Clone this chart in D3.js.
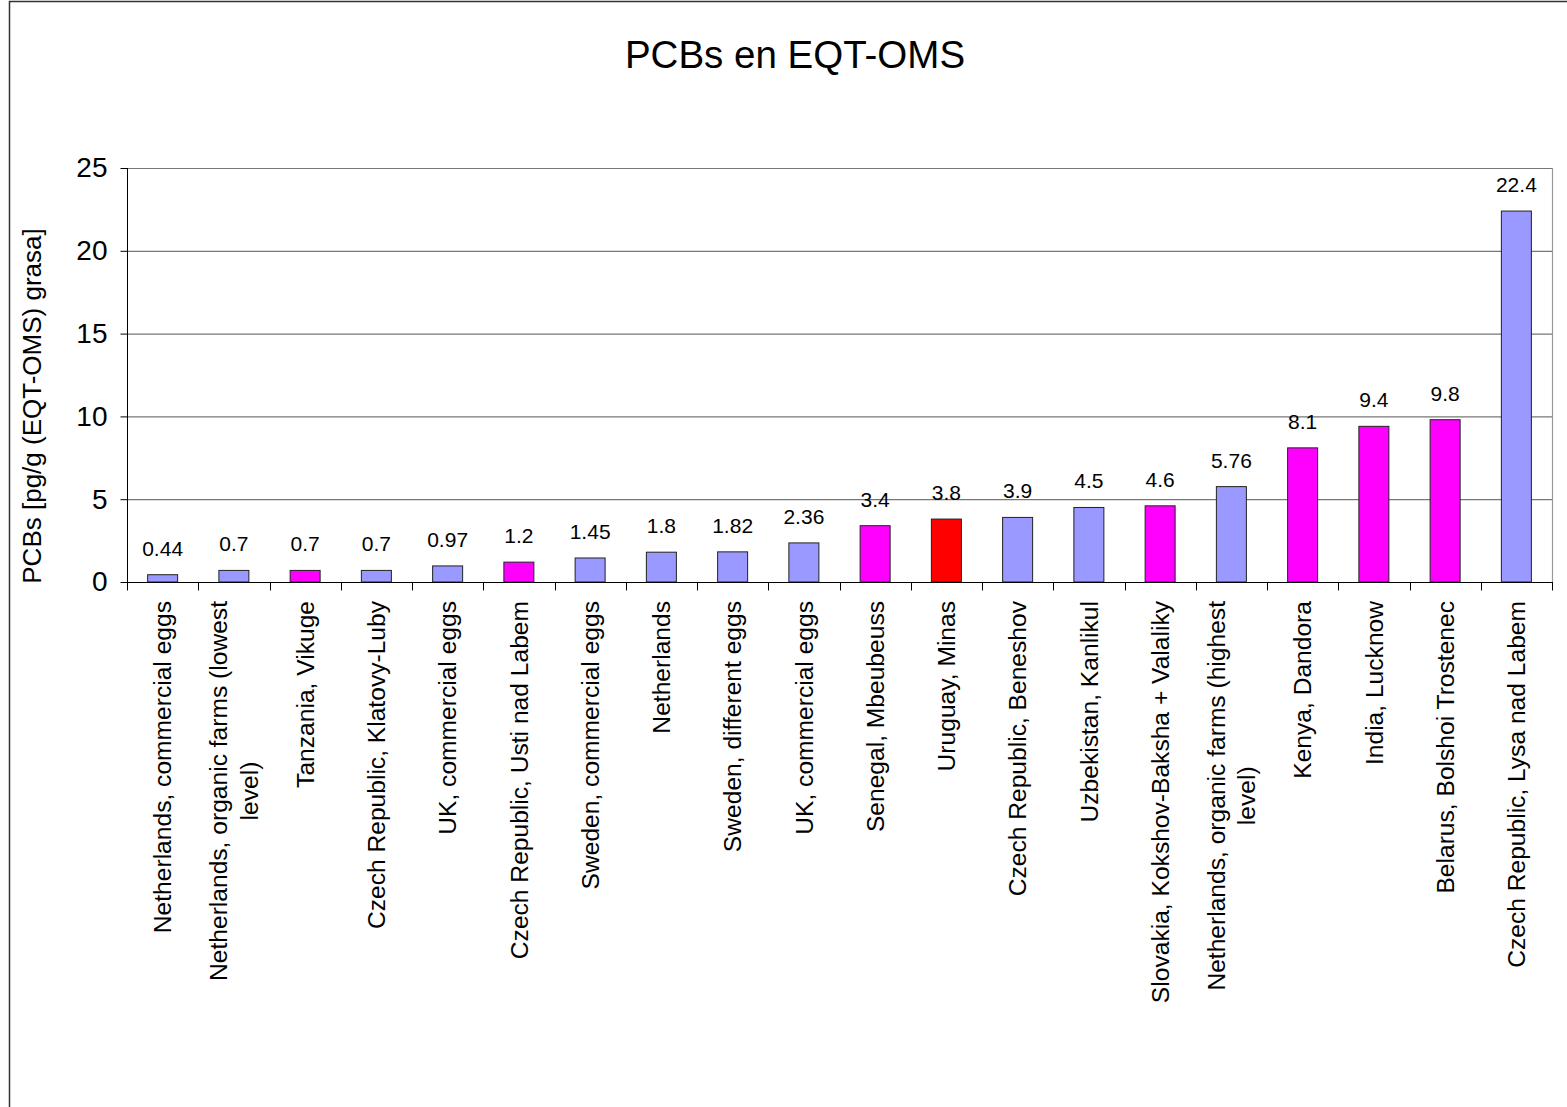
<!DOCTYPE html>
<html>
<head>
<meta charset="utf-8">
<script src="https://cdn.jsdelivr.net/npm/d3@7"></script>
<style>
  body { margin: 0; background: #fff; }
  text { font-family: Arial, "Liberation Sans", sans-serif; fill: #000; }
</style>
</head>
<body>
<script>
var width = 1567;
var height = 1107;

var margin = {top: 168, left: 127, right: 15, bottom: 525};

// chart data
var categories = [
  "Netherlands, commercial eggs",
  "Netherlands, organic farms (lowest|level)",
  "Tanzania, Vikuge",
  "Czech Republic, Klatovy-Luby",
  "UK, commercial eggs",
  "Czech Republic, Usti nad Labem",
  "Sweden, commercial eggs",
  "Netherlands",
  "Sweden, different eggs",
  "UK, commercial eggs ",
  "Senegal, Mbeubeuss",
  "Uruguay, Minas",
  "Czech Republic, Beneshov",
  "Uzbekistan, Kanlikul",
  "Slovakia, Kokshov-Baksha + Valaliky",
  "Netherlands, organic farms (highest|level)",
  "Kenya, Dandora",
  "India, Lucknow",
  "Belarus, Bolshoi Trostenec",
  "Czech Republic, Lysa nad Labem"
];
var values = [0.44, 0.7, 0.7, 0.7, 0.97, 1.2, 1.45, 1.8, 1.82, 2.36,
              3.4, 3.8, 3.9, 4.5, 4.6, 5.76, 8.1, 9.4, 9.8, 22.4];
var valueLabels = ["0.44", "0.7", "0.7", "0.7", "0.97", "1.2", "1.45", "1.8", "1.82", "2.36",
                   "3.4", "3.8", "3.9", "4.5", "4.6", "5.76", "8.1", "9.4", "9.8", "22.4"];
// group: 0 = reference (blue), 1 = hotspot (magenta), 2 = Uruguay (red)
var groups = [0, 0, 1, 0, 0, 1, 0, 0, 0, 0, 1, 2, 0, 0, 1, 0, 1, 1, 1, 0];
var yTicks = [0, 5, 10, 15, 20, 25];

var colors = ["#9999FF", "#FF00FF", "#FF0000"];

var svg = d3.select("body")
  .append("svg")
  .attr("width", width)
  .attr("height", height);

// outer frame
svg.append("rect")
  .attr("x", 9.5).attr("y", 1.5)
  .attr("width", width).attr("height", height)
  .attr("fill", "none")
  .attr("stroke", "#333")
  .attr("stroke-width", 1.5);

var x0 = margin.left, x1 = width - margin.right;
var y0 = height - margin.bottom, y1 = margin.top;

var xScale = d3.scaleBand()
  .domain(d3.range(categories.length))
  .range([x0, x1]);

var yScale = d3.scaleLinear()
  .domain([0, 25])
  .range([y0, y1]);

// title
svg.append("text")
  .attr("x", 795).attr("y", 68)
  .attr("text-anchor", "middle")
  .style("font-size", "38.5px")
  .text("PCBs en EQT-OMS");

// gridlines
svg.append("g").selectAll("line")
  .data(yTicks.filter(function(d) { return d > 0; }))
  .enter().append("line")
  .attr("x1", x0).attr("x2", x1)
  .attr("y1", function(d) { return yScale(d) + 0.5; })
  .attr("y2", function(d) { return yScale(d) + 0.5; })
  .attr("stroke", "#777")
  .attr("stroke-width", 1.2);

// right border of plot area
svg.append("line")
  .attr("x1", x1 + 0.5).attr("x2", x1 + 0.5)
  .attr("y1", y1).attr("y2", y0)
  .attr("stroke", "#999")
  .attr("stroke-width", 1.2);

// bars
var barWidth = 30;
svg.append("g").selectAll("rect")
  .data(values)
  .enter().append("rect")
  .attr("x", function(d, i) { return xScale(i) + xScale.bandwidth() / 2 - barWidth / 2; })
  .attr("y", function(d) { return yScale(d); })
  .attr("width", barWidth)
  .attr("height", function(d) { return y0 - yScale(d); })
  .attr("fill", function(d, i) { return colors[groups[i]]; })
  .attr("stroke", "#222")
  .attr("stroke-width", 1);

// value labels
svg.append("g").selectAll("text")
  .data(values)
  .enter().append("text")
  .attr("x", function(d, i) { return xScale(i) + xScale.bandwidth() / 2; })
  .attr("y", function(d) { return yScale(d) - 19; })
  .attr("text-anchor", "middle")
  .style("font-size", "21px")
  .text(function(d, i) { return valueLabels[i]; });

// y axis
var yAxis = svg.append("g")
  .attr("transform", "translate(" + (x0 + 0.5) + ",0)")
  .call(d3.axisLeft(yScale).tickValues(yTicks).tickSize(7).tickPadding(13).tickFormat(d3.format("d")));
yAxis.select(".domain").attr("d", "M0," + y1 + "V" + (y0 + 8)).attr("stroke", "#000");
yAxis.selectAll(".tick line").attr("stroke", "#000");
yAxis.selectAll(".tick text")
  .style("font-size", "28px")
  .style("font-family", "Arial, 'Liberation Sans', sans-serif");

// x axis
var xAxis = svg.append("g")
  .attr("transform", "translate(0," + (y0 + 0.5) + ")");
xAxis.append("line")
  .attr("x1", x0).attr("x2", x1 + 1)
  .attr("y1", 0).attr("y2", 0)
  .attr("stroke", "#000");
xAxis.selectAll("line.tk")
  .data(d3.range(categories.length + 1))
  .enter().append("line")
  .attr("class", "tk")
  .attr("x1", function(i) { return Math.round(x0 + i * xScale.step()) + 0.5; })
  .attr("x2", function(i) { return Math.round(x0 + i * xScale.step()) + 0.5; })
  .attr("y1", 0).attr("y2", 8)
  .attr("stroke", "#000");

// category labels, rotated
var labelTop = y0 + 19;
categories.forEach(function(c, i) {
  var lines = c.trim().split("|");
  var cx = xScale(i) + xScale.bandwidth() / 2;
  var g = svg.append("g")
    .attr("transform", "translate(" + cx + "," + labelTop + ") rotate(-90)");
  var lh = 31;
  var off = -(lines.length - 1) * lh / 2;
  var first = g.append("text")
    .attr("x", 0)
    .attr("y", off)
    .attr("dy", "0.35em")
    .attr("text-anchor", "end")
    .style("font-size", "24.6px")
    .text(lines[0]);
  if (lines.length > 1) {
    var len = first.node().getComputedTextLength();
    g.append("text")
      .attr("x", -len / 2)
      .attr("y", off + lh)
      .attr("dy", "0.35em")
      .attr("text-anchor", "middle")
      .style("font-size", "24.6px")
      .text(lines[1]);
  }
});

// y axis title
svg.append("text")
  .attr("transform", "translate(41,406) rotate(-90)")
  .attr("text-anchor", "middle")
  .style("font-size", "26px")
  .text("PCBs [pg/g (EQT-OMS) grasa]");
</script>
</body>
</html>
